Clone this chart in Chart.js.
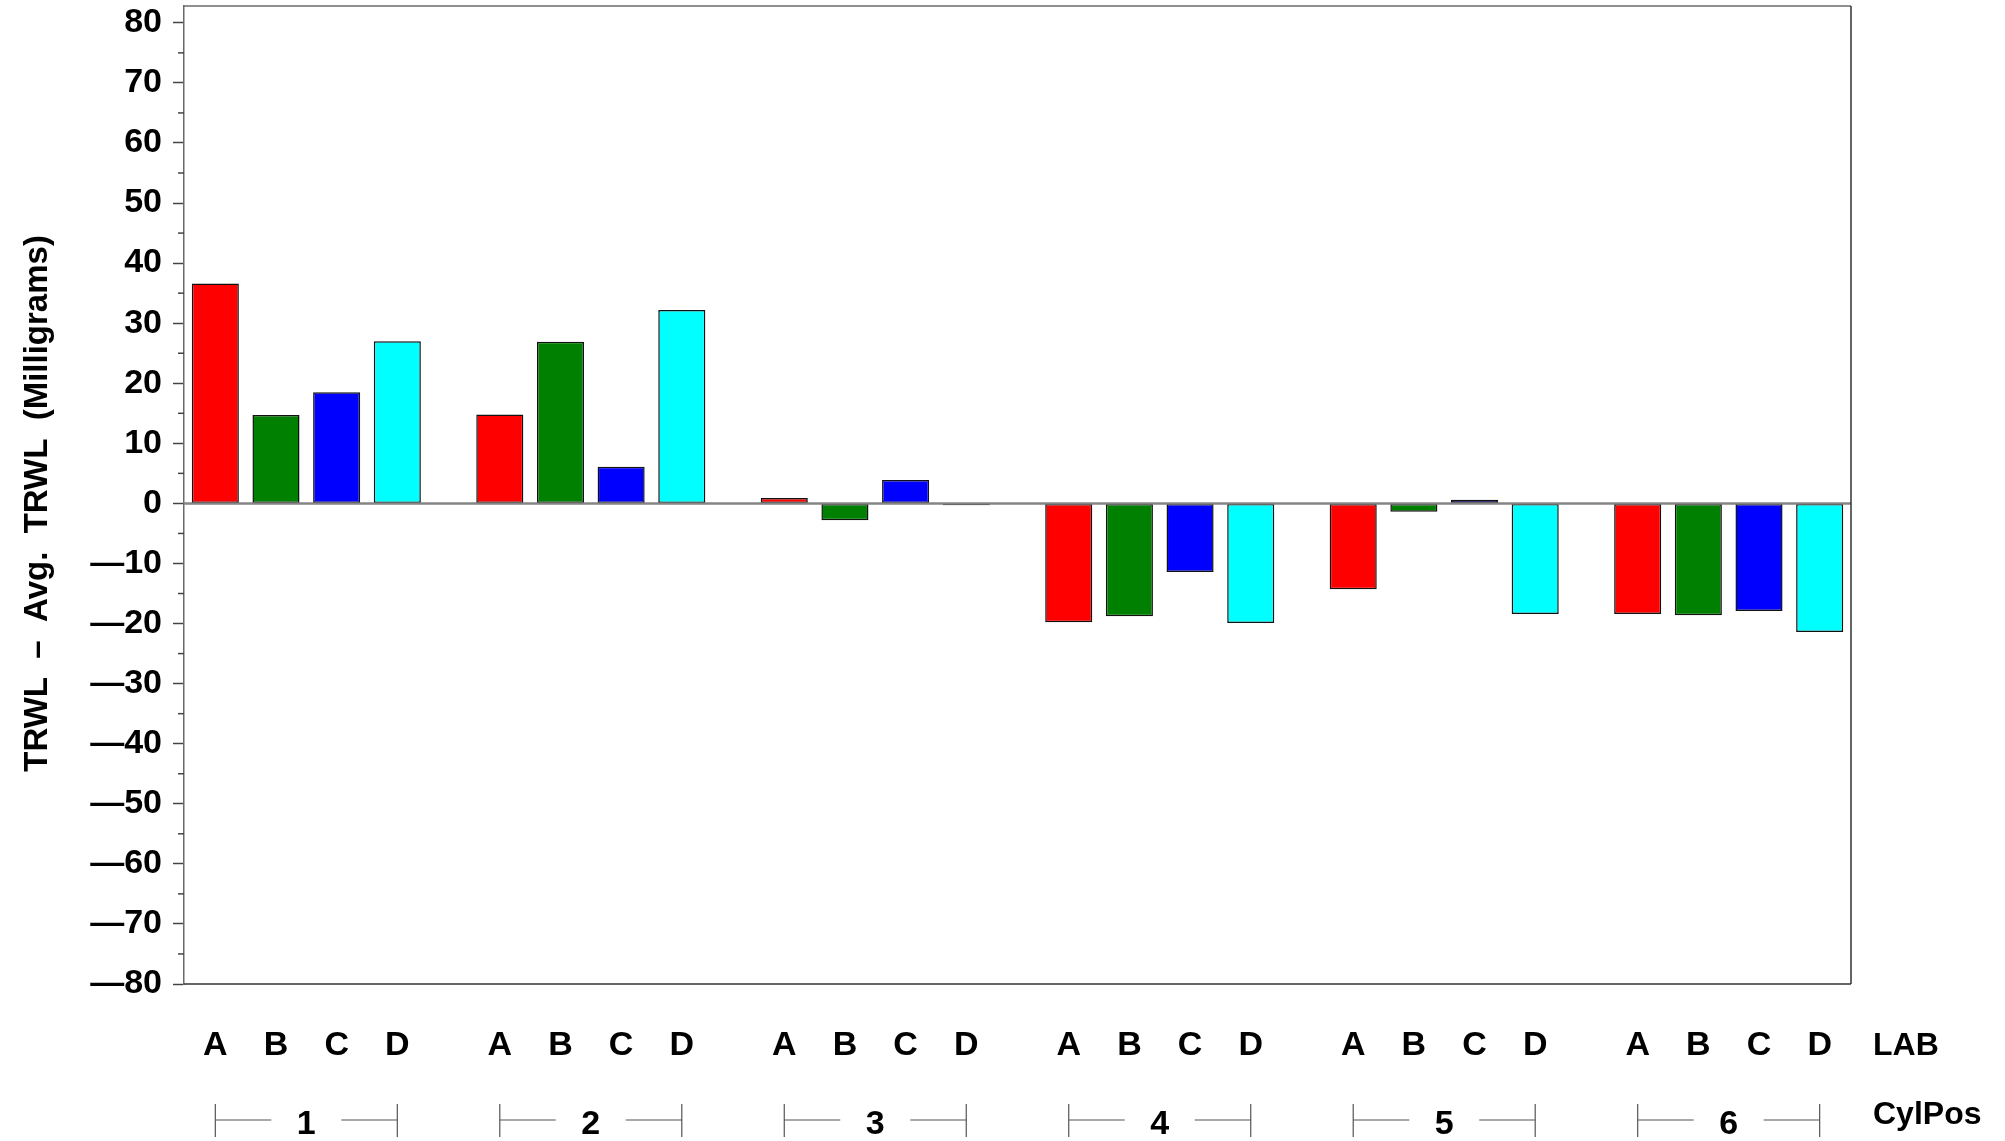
<!DOCTYPE html>
<html><head><meta charset="utf-8">
<script src="https://cdn.jsdelivr.net/npm/chart.js@4/dist/chart.umd.min.js"></script>
<style>html,body{margin:0;padding:0;background:#fff}</style>
</head><body>
<canvas id="c" width="2005" height="1141"></canvas>
<script>
const cylPos = [1, 2, 3, 4, 5, 6];
const labs = ['A', 'B', 'C', 'D'];
const labA = [36.6, 14.8, 0.9, -19.8, -14.3, -18.4];
const labB = [14.7, 26.9, -2.8, -18.8, -1.4, -18.6];
const labC = [18.5, 6.1, 3.9, -11.4, 0.6, -17.9];
const labD = [27.0, 32.2, -0.3, -19.9, -18.4, -21.4];
const labColors = ['#ff0000', '#008000', '#0000ff', '#00ffff'];
const yMajorTicks = [-80, -70, -60, -50, -40, -30, -20, -10, 0, 10, 20, 30, 40, 50, 60, 70, 80];
const yMinorTicks = [-75, -65, -55, -45, -35, -25, -15, -5, 5, 15, 25, 35, 45, 55, 65, 75];
const yAxisTitle = 'TRWL  \u2013  Avg.  TRWL  (Milligrams)';
const rowTitles = ['LAB', 'CylPos'];

const FONT = '"Liberation Sans", Arial, Helvetica, sans-serif';

const decor = {
  id: 'decor',
  afterDatasetsDraw(chart) {
    const {ctx, chartArea: a, scales} = chart;
    const y0 = scales.y.getPixelForValue(0);
    ctx.save();
    ctx.strokeStyle = '#858585';
    ctx.lineWidth = 2.5;
    ctx.beginPath(); ctx.moveTo(a.left, y0); ctx.lineTo(a.right, y0); ctx.stroke();
    ctx.restore();
  },
  afterDraw(chart) {
    const {ctx, chartArea: a, scales} = chart;
    const ys = scales.y, xs = scales.x;
    ctx.save();
    // frame
    ctx.lineWidth = 1.5;
    ctx.strokeStyle = '#6a6a6a';
    ctx.beginPath(); ctx.moveTo(a.left, a.top); ctx.lineTo(a.right, a.top); ctx.stroke();
    ctx.strokeStyle = '#333';
    ctx.beginPath(); ctx.moveTo(a.right, a.top); ctx.lineTo(a.right, a.bottom); ctx.stroke();
    ctx.beginPath(); ctx.moveTo(a.left, a.bottom); ctx.lineTo(a.right, a.bottom); ctx.stroke();
    // minor ticks
    ctx.strokeStyle = '#444';
    ctx.lineWidth = 1.5;
    yMinorTicks.forEach(v => {
      const py = ys.getPixelForValue(v);
      ctx.beginPath(); ctx.moveTo(a.left - 6, py); ctx.lineTo(a.left, py); ctx.stroke();
    });
    // LAB labels
    ctx.fillStyle = '#000';
    ctx.font = 'bold 34px ' + FONT;
    ctx.textAlign = 'center';
    ctx.textBaseline = 'alphabetic';
    chart.data.datasets.forEach((ds, di) => {
      const meta = chart.getDatasetMeta(di);
      meta.data.forEach(el => { ctx.fillText(labs[di], el.x, 1055); });
    });
    // CylPos groups
    const m0 = chart.getDatasetMeta(0), m3 = chart.getDatasetMeta(3);
    cylPos.forEach((g, gi) => {
      const xa = m0.data[gi].x, xd = m3.data[gi].x;
      const xc = xs.getPixelForValue(g);
      ctx.strokeStyle = '#555';
      ctx.lineWidth = 1.2;
      ctx.beginPath();
      ctx.moveTo(xa, 1104); ctx.lineTo(xa, 1137);
      ctx.moveTo(xd, 1104); ctx.lineTo(xd, 1137);
      ctx.moveTo(xa, 1120); ctx.lineTo(xc - 35, 1120);
      ctx.moveTo(xc + 35, 1120); ctx.lineTo(xd, 1120);
      ctx.stroke();
      ctx.fillText(String(g), xc, 1134);
    });
    // row titles
    ctx.textAlign = 'left';
    ctx.font = 'bold 32px ' + FONT;
    ctx.fillText(rowTitles[0], 1873, 1055);
    ctx.fillText(rowTitles[1], 1873, 1124);
    // y title
    ctx.save();
    ctx.translate(46.5, ys.getPixelForValue(0));
    ctx.rotate(-Math.PI / 2);
    ctx.textAlign = 'center';
    ctx.font = 'bold 33px ' + FONT;
    ctx.fillText(yAxisTitle, 0, 0);
    ctx.restore();
    ctx.restore();
  }
};

const datasets = [labA, labB, labC, labD].map((arr, i) => ({
  label: labs[i],
  data: arr,
  backgroundColor: labColors[i],
  borderColor: '#111',
  borderWidth: 1.5,
  borderSkipped: false,
  barPercentage: 0.776,
  categoryPercentage: 0.853
}));

new Chart(document.getElementById('c'), {
  type: 'bar',
  data: { labels: cylPos, datasets },
  options: {
    responsive: false,
    devicePixelRatio: 1,
    animation: false,
    layout: { padding: { left: 0, top: 6, right: 154, bottom: 157 } },
    plugins: { legend: { display: false }, tooltip: { enabled: false } },
    scales: {
      x: {
        type: 'linear',
        min: 0.57, max: 6.43,
        offset: false,
        display: false,
        afterBuildTicks: s => { s.ticks = cylPos.map(v => ({ value: v })); }
      },
      y: {
        min: -80, max: 82.8,
        afterFit: s => { s.width = 184; s.paddingTop = 0; s.paddingBottom = 0; },
        afterBuildTicks: s => { s.ticks = yMajorTicks.map(v => ({ value: v })); },
        ticks: {
          autoSkip: false,
          padding: 11,
          color: '#000',
          font: { family: FONT, size: 34, weight: 'bold' },
          callback: v => v < 0 ? '\u2014' + Math.abs(v) : String(v)
        },
        grid: {
          drawOnChartArea: false,
          drawTicks: true,
          tickLength: 11,
          tickColor: '#444',
          tickWidth: 1.5
        },
        border: { display: true, color: '#6a6a6a', width: 1.5 }
      }
    }
  },
  plugins: [decor]
});
</script>
</body></html>
